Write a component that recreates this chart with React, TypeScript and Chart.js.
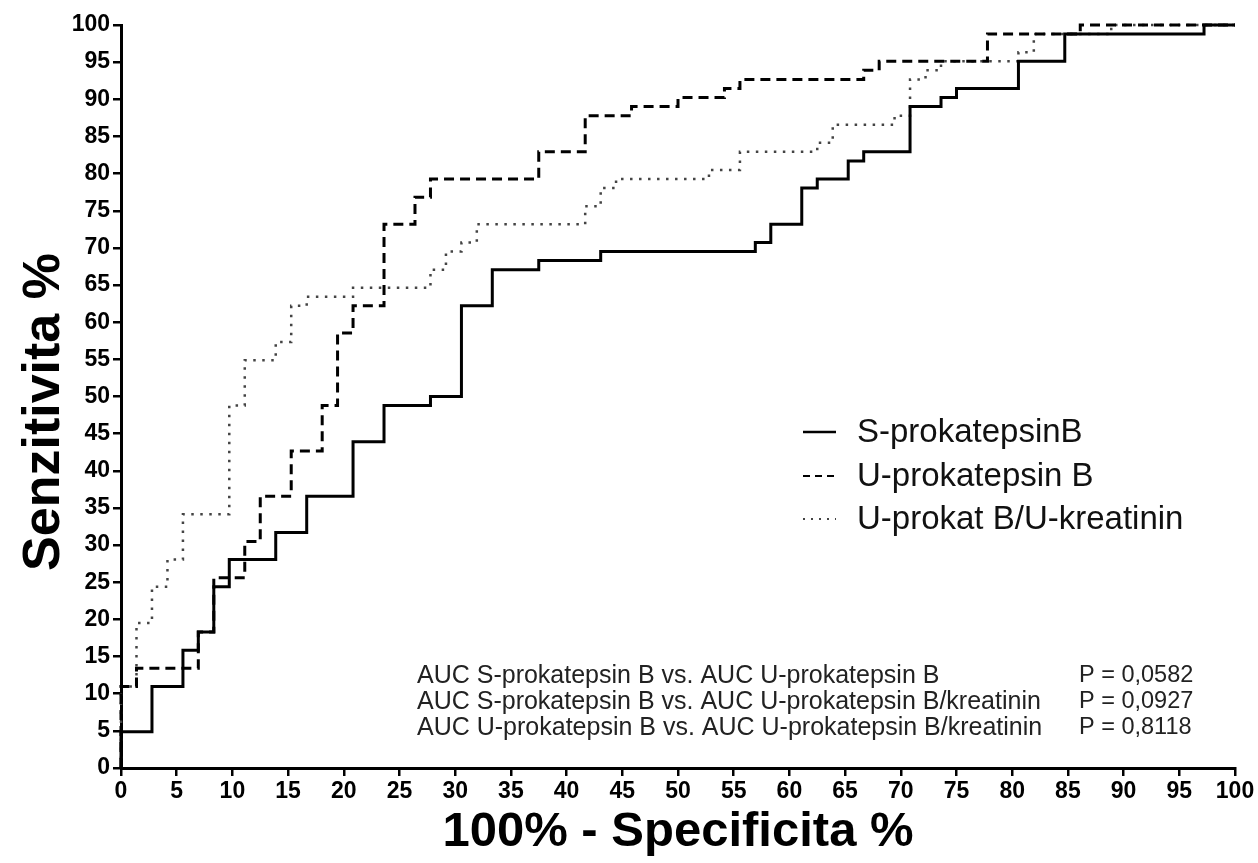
import React, { useEffect, useRef } from "react";
import { Chart, registerables } from "chart.js";

Chart.register(...registerables);

// ---- data ----
const seriesLabels = ["S-prokatepsinB", "U-prokatepsin B", "U-prokat B/U-kreatinin"];

// x positions (100% - specificity) where each curve steps up, and the level it reaches
const sX = [0, 2.78, 5.56, 6.94, 8.33, 9.72, 13.89, 16.67, 20.83, 23.61, 27.78, 30.56, 33.33, 37.5, 43.06, 56.94, 58.33, 61.11, 62.5, 65.28, 66.67, 70.83, 73.61, 75.0, 80.56, 84.72, 97.22];
const sY = [4.88, 10.98, 15.85, 18.29, 24.39, 28.05, 31.71, 36.59, 43.9, 48.78, 50.0, 62.2, 67.07, 68.29, 69.51, 70.73, 73.17, 78.05, 79.27, 81.71, 82.93, 89.02, 90.24, 91.46, 95.12, 98.78, 100];

const uX = [0, 1.39, 6.94, 8.33, 11.11, 12.5, 15.28, 18.06, 19.44, 20.83, 23.61, 26.39, 27.78, 37.5, 41.67, 45.83, 50.0, 54.17, 55.56, 66.67, 68.06, 77.78, 86.11];
const uY = [10.98, 13.41, 18.29, 25.61, 30.49, 36.59, 42.68, 48.78, 58.54, 62.2, 73.17, 76.83, 79.27, 82.93, 87.8, 89.02, 90.24, 91.46, 92.68, 93.9, 95.12, 98.78, 100];

const kX = [0, 1.39, 2.78, 4.17, 5.56, 9.72, 11.11, 13.89, 15.28, 16.67, 20.83, 27.78, 29.17, 30.56, 31.94, 41.67, 43.06, 44.44, 52.78, 55.56, 62.5, 63.89, 69.44, 70.83, 72.22, 73.61, 80.56, 81.94, 88.89];
const kY = [10.98, 19.51, 24.39, 28.05, 34.15, 48.78, 54.88, 57.32, 62.2, 63.41, 64.63, 67.07, 69.51, 70.73, 73.17, 75.61, 78.05, 79.27, 80.49, 82.93, 84.15, 86.59, 87.8, 92.68, 93.9, 95.12, 96.34, 98.78, 100];

const aucLines = [
  "AUC S-prokatepsin B vs. AUC U-prokatepsin B",
  "AUC S-prokatepsin B vs. AUC U-prokatepsin B/kreatinin",
  "AUC U-prokatepsin B vs. AUC U-prokatepsin B/kreatinin",
];
const pValues = ["P = 0,0582", "P = 0,0927", "P = 0,8118"];

const xTitle = "100% - Specificita %";
const yTitle = "Senzitivita %";

function stepPoints(xs: number[], ys: number[]) {
  const pts: { x: number; y: number }[] = [{ x: 0, y: 0 }];
  let prev = 0;
  for (let i = 0; i < xs.length; i++) {
    pts.push({ x: xs[i], y: prev });
    pts.push({ x: xs[i], y: ys[i] });
    prev = ys[i];
  }
  pts.push({ x: 100, y: prev });
  return pts;
}

const FONT = '"Liberation Sans", Arial, Helvetica, sans-serif';

const styles = [
  { dash: [] as number[], width: 3, color: "#000000", legendDash: [] as number[], legendWidth: 2.5 },
  { dash: [10, 6], width: 3, color: "#000000", legendDash: [7, 5], legendWidth: 2 },
  { dash: [2.5, 6.5], width: 2.5, color: "#444444", legendDash: [2, 6], legendWidth: 2 },
];

const overlayPlugin = {
  id: "overlay",
  afterDraw(chart: any) {
    const ctx = chart.ctx as CanvasRenderingContext2D;
    ctx.save();
    // legend
    const rows = [432, 476, 519];
    for (let i = 0; i < 3; i++) {
      const st = styles[i];
      ctx.beginPath();
      ctx.setLineDash(st.legendDash);
      ctx.lineWidth = st.legendWidth;
      ctx.strokeStyle = st.color;
      ctx.moveTo(803, rows[i]);
      ctx.lineTo(836, rows[i]);
      ctx.stroke();
      ctx.setLineDash([]);
      ctx.fillStyle = "#111";
      ctx.font = `33px ${FONT}`;
      ctx.textAlign = "left";
      ctx.textBaseline = "middle";
      ctx.fillText(chart.data.datasets[i].label, 857, rows[i] + 1);
    }
    // AUC comparison text
    const aRows = [676, 702, 728];
    ctx.fillStyle = "#222";
    for (let i = 0; i < 3; i++) {
      ctx.font = `25px ${FONT}`;
      ctx.fillText(aucLines[i], 417, aRows[i]);
      ctx.font = `23.5px ${FONT}`;
      ctx.fillText(pValues[i], 1079, aRows[i]);
    }
    // axis titles
    ctx.fillStyle = "#000";
    ctx.font = `bold 49px ${FONT}`;
    ctx.textAlign = "center";
    ctx.fillText(xTitle, 678, 832);
    ctx.translate(45, 412);
    ctx.rotate(-Math.PI / 2);
    ctx.font = `bold 52px ${FONT}`;
    ctx.fillText(yTitle, 0, 0);
    ctx.restore();
  },
};

export default function App() {
  const ref = useRef<HTMLCanvasElement | null>(null);
  useEffect(() => {
    document.body.style.margin = "0";
    const canvas = ref.current;
    if (!canvas) return;
    const series = [stepPoints(sX, sY), stepPoints(uX, uY), stepPoints(kX, kY)];
    const tickFont = { family: FONT, size: 23, weight: "bold" as const };
    const chart = new Chart(canvas, {
      type: "line",
      data: {
        datasets: series.map((pts, i) => ({
          label: seriesLabels[i],
          data: pts,
          borderColor: styles[i].color,
          borderWidth: styles[i].width,
          borderDash: styles[i].dash,
          pointRadius: 0,
          tension: 0,
          fill: false,
          clip: 4,
          borderCapStyle: "butt" as const,
          borderJoinStyle: "miter" as const,
        })),
      },
      options: {
        responsive: false,
        animation: false,
        devicePixelRatio: 1,
        layout: { padding: { top: 25, right: 23, left: 0, bottom: 0 } },
        plugins: { legend: { display: false }, tooltip: { enabled: false }, title: { display: false } },
        scales: {
          x: {
            type: "linear",
            min: 0,
            max: 100,
            afterFit: (s: any) => { s.height = 95; },
            ticks: { stepSize: 5, font: tickFont, color: "#000", padding: 2, maxRotation: 0, autoSkip: false },
            grid: { display: true, drawOnChartArea: false, drawTicks: true, tickLength: 8, color: "#000", lineWidth: 2.5 },
            border: { display: true, color: "#000", width: 3 },
          },
          y: {
            type: "linear",
            min: 0,
            max: 100,
            afterFit: (s: any) => { s.width = 121; },
            ticks: { stepSize: 5, font: tickFont, color: "#000", padding: 3, autoSkip: false },
            grid: { display: true, drawOnChartArea: false, drawTicks: true, tickLength: 8, color: "#000", lineWidth: 2.5 },
            border: { display: true, color: "#000", width: 3 },
          },
        },
      },
      plugins: [overlayPlugin],
    } as any);
    return () => chart.destroy();
  }, []);
  return (
    <div style={{ width: 1258, height: 863, background: "#fff" }}>
      <canvas ref={ref} width={1258} height={863} style={{ display: "block" }} />
    </div>
  );
}
